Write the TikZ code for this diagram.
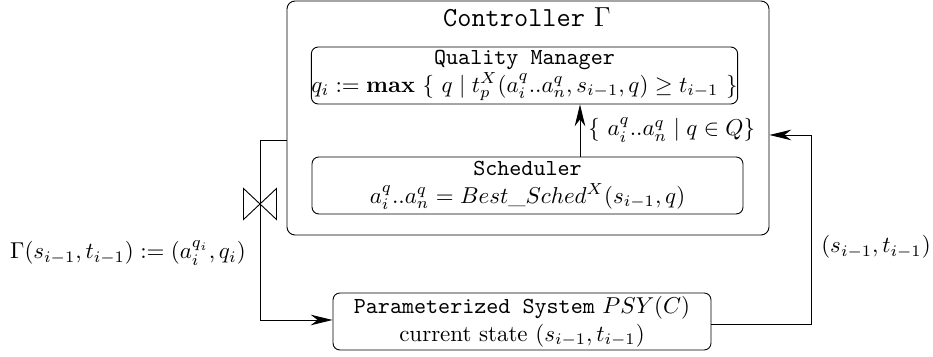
\documentclass[tikz,border=0pt]{standalone}
\usetikzlibrary{arrows.meta}
\newlength\pxu
\setlength\pxu{0.4357pt}
\begin{document}
\begin{tikzpicture}[x=\pxu,y=-\pxu,
  box/.style={draw,rounded corners=3pt,inner sep=0pt,align=center},
  arr/.style={-{Stealth[length=9.5pt,width=4.6pt,inset=3pt]}},
  lbl/.style={inner sep=0pt}]
\useasboundingbox (0,0) rectangle (933,357);
% controller
\node[box,rounded corners=3.5pt,minimum width=482*\pxu,minimum height=234*\pxu] (ctrl) at (528,118) {};
\node[lbl] (title) at (527,17) {\large\texttt{Controller} $\Gamma$};
\node[box,minimum width=425*\pxu,minimum height=57*\pxu] (qm) at (524.5,75.5)
  {\texttt{Quality Manager}\\ $q_i := \mathbf{max}\ \{\ q \mid t_p^X(a_i^q..a_n^q, s_{i-1}, q) \geq t_{i-1}\ \}$};
\node[box,minimum width=431*\pxu,minimum height=57*\pxu] (sched) at (527.5,185.5)
  {\texttt{Scheduler}\\ $a_i^q..a_n^q = Best\_Sched^X(s_{i-1},q)$};
\node[box,minimum width=378*\pxu,minimum height=57*\pxu] (psy) at (522,321.5)
  {\texttt{Parameterized System} $PSY(C)$\\ current state $(s_{i-1},t_{i-1})$};
% inner arrow
\coordinate (xa) at (580,0);
\draw[arr] (sched.north -| xa) -- (qm.south -| xa);
\node[lbl,anchor=west] (setlbl) at (588,130) {$\{\ a_i^q..a_n^q \mid q \in Q\}$};
% left feedback
\coordinate (lt) at (260,140);
\coordinate (lb) at (260,320);
\draw[arr] (ctrl.west |- lt) -- (lt) -- (lb) -- (psy.west |- lb);
\coordinate (valve) at (260,204);
\draw ([shift={(-16.5,-15.5)}]valve) -- ([shift={(16.5,15.5)}]valve) -- ([shift={(16.5,-15.5)}]valve) -- ([shift={(-16.5,15.5)}]valve) -- cycle;
\node[lbl] (glbl) at (128,253) {$\Gamma(s_{i-1},t_{i-1}) := (a_i^{q_i},q_i)$};
% right feedback
\coordinate (rt) at (811,135);
\coordinate (rb) at (811,324);
\draw[arr] (psy.east |- rb) -- (rb) -- (rt) -- (ctrl.east |- rt);
\node[lbl] (slbl) at (876,247) {$(s_{i-1},t_{i-1})$};
\end{tikzpicture}
\end{document}
